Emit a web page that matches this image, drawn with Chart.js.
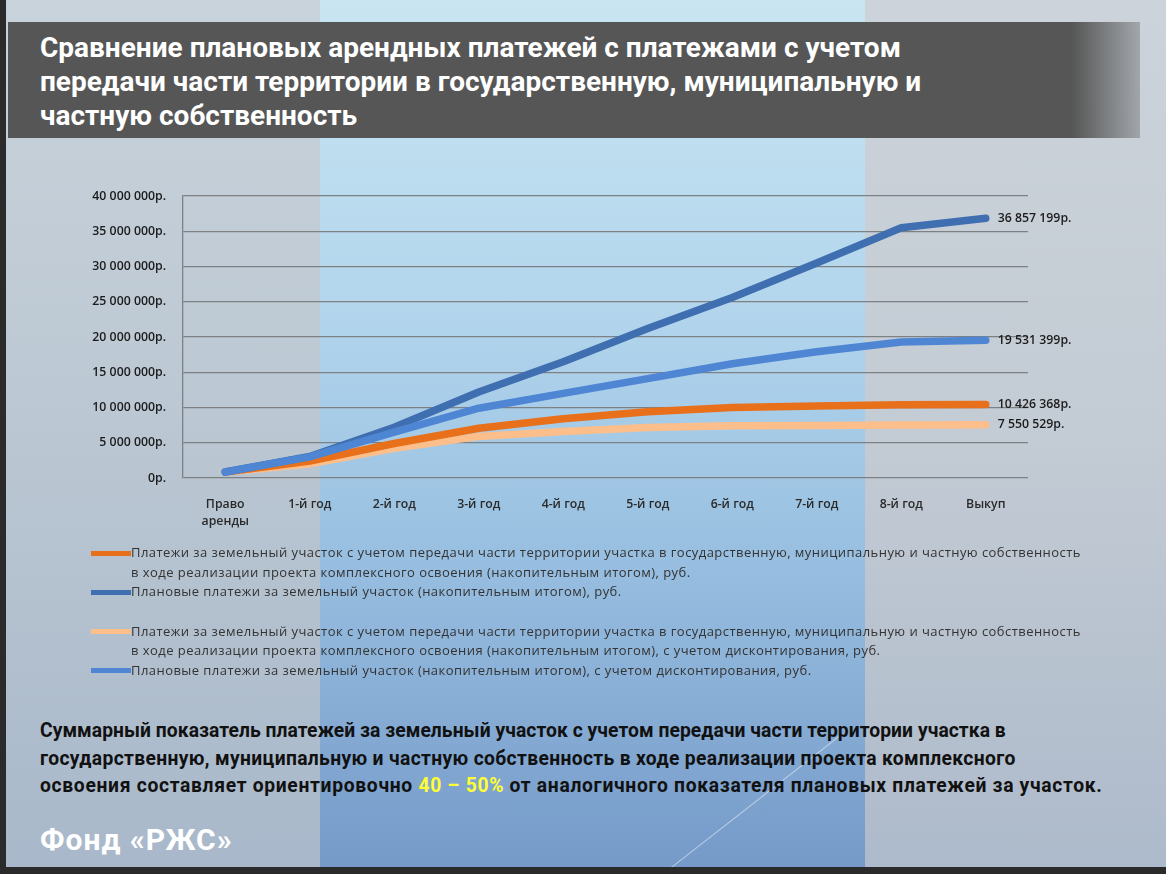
<!DOCTYPE html>
<html lang="ru">
<head>
<meta charset="utf-8">
<title>Сравнение плановых арендных платежей</title>
<script src="https://cdn.jsdelivr.net/npm/chart.js@4.4.1/dist/chart.umd.min.js"></script>
<style>
  html, body { margin: 0; padding: 0; }
  body {
    width: 1166px; height: 874px; overflow: hidden; position: relative;
    font-family: "Open Sans", "Noto Sans", sans-serif;
  }
  .panel { position: absolute; top: 0; height: 874px; }
  .p-left  { left: 0; width: 320px; background: linear-gradient(#c9d3db 0%, #bcc8d3 45%, #a8b8ca 100%); }
  .p-mid   { left: 320px; width: 545px; background: linear-gradient(#c9e5f2 0%, #b3d6ed 35%, #97bee0 65%, #7499c8 100%); }
  .p-right { left: 865px; width: 301px; background: linear-gradient(#ccd3da 0%, #c3cbd4 50%, #adbacb 100%); }
  .streak {
    position: absolute; left: 840px; top: 735px; width: 1px; height: 222px;
    background: rgba(255,255,255,0.5); transform: rotate(52deg); transform-origin: top left;
  }
  .edge-left { position: absolute; left: 0; top: 0; width: 6px; height: 874px; background: #2b2b2b; }
  .edge-bottom { position: absolute; left: 0; top: 867px; width: 1166px; height: 7px; background: #2b2b2b; }
  .title {
    position: absolute; left: 8px; top: 22px; width: 1132px; height: 116px;
    background: linear-gradient(to right, #565656 0%, #565656 94%, rgba(86,86,86,0.35) 100%);
    box-sizing: border-box; padding: 9px 0 0 32px;
    color: #ffffff; font-family: Roboto, sans-serif; font-weight: 700; font-size: 28px; line-height: 34px;
  }
  #chartBox { position: absolute; left: 0; top: 0; width: 1166px; height: 560px; }
  .legend { position: absolute; left: 91px; top: 543px; width: 1060px; }
  .legend .item { display: flex; align-items: flex-start; }
  .legend .mark { width: 40px; height: 5px; margin-top: 7.5px; flex: none; }
  .legend .text {
    font-size: 13px; letter-spacing: 0.45px; line-height: 19.6px; color: #333; white-space: nowrap;
  }
  .legend .gap { height: 20px; }
  .summary {
    position: absolute; left: 40px; top: 717px; width: 1110px; white-space: nowrap;
    font-family: Roboto, sans-serif; font-weight: 700; font-size: 19.3px; line-height: 27.7px; color: #111;
  }
  .summary .l1 { letter-spacing: 0.05px; }
  .summary .l2 { letter-spacing: 0.34px; }
  .summary .l3 { letter-spacing: 0.68px; }
  .summary .hl { color: #ffff33; }
  .footer {
    position: absolute; left: 40px; top: 822px;
    font-family: Roboto, sans-serif; font-weight: 700; font-size: 30px; letter-spacing: 1px; color: #ffffff;
  }
</style>
</head>
<body>
<div class="panel p-left"></div>
<div class="panel p-mid"></div>
<div class="panel p-right"></div>
<div class="streak"></div>
<div class="edge-left"></div>
<div class="edge-bottom"></div>

<div class="title">Сравнение плановых арендных платежей с платежами с учетом<br>передачи части территории в государственную, муниципальную и<br>частную собственность</div>

<div id="chartBox"><canvas id="chart" width="1166" height="560"></canvas></div>

<div class="legend" id="legend"></div>

<div class="summary"><span class="l1">Суммарный показатель платежей за земельный участок с учетом передачи части территории участка в</span><br><span class="l2">государственную, муниципальную и частную собственность в ходе реализации проекта комплексного</span><br><span class="l3">освоения составляет ориентировочно <span class="hl">40 – 50%</span> от аналогичного показателя плановых платежей за участок.</span></div>

<div class="footer">Фонд «РЖС»</div>

<script>
// Periods of the lease schedule
const categories = [
  ["Право", "аренды"], "1-й год", "2-й год", "3-й год", "4-й год",
  "5-й год", "6-й год", "7-й год", "8-й год", "Выкуп"
];

// Cumulative payments, roubles
const transferPayments = [850000, 2400000, 4900000, 7050000, 8400000, 9400000, 10000000, 10200000, 10400000, 10426368];
const plannedPayments = [850000, 3050000, 7200000, 12200000, 16500000, 21200000, 25600000, 30500000, 35500000, 36857199];
const transferDiscounted = [850000, 2000000, 4200000, 5900000, 6600000, 7150000, 7400000, 7450000, 7520000, 7550529];
const plannedDiscounted = [850000, 3000000, 6500000, 9900000, 12000000, 14100000, 16200000, 17900000, 19300000, 19531399];

// Y axis range
const yMin = 0;
const yMax = 40000000;
const yStep = 5000000;

// Legend texts (each entry is a list of printed lines)
const labelTransfer = [
  "Платежи за земельный участок с учетом передачи части территории участка в государственную, муниципальную и частную собственность",
  "в ходе реализации проекта комплексного освоения (накопительным итогом), руб."
];
const labelPlanned = ["Плановые платежи за земельный участок (накопительным итогом), руб."];
const labelTransferDisc = [
  "Платежи за земельный участок с учетом передачи части территории участка в государственную, муниципальную и частную собственность",
  "в ходе реализации проекта комплексного освоения (накопительным итогом), с учетом дисконтирования, руб."
];
const labelPlannedDisc = ["Плановые платежи за земельный участок (накопительным итогом), с учетом дисконтирования, руб."];

const colors = {
  orange: "#e8701a",
  darkBlue: "#3f6fb0",
  lightOrange: "#fcbf8c",
  lightBlue: "#4e86d4"
};

function rub(v) {
  return String(Math.round(v)).replace(/\B(?=(\d{3})+(?!\d))/g, " ") + "р.";
}

const axisFont = { family: "Open Sans", size: 12.3, weight: "600" };

const datasets = [
  { label: labelTransfer, data: transferPayments, borderColor: colors.orange, order: 2, gapAfter: false },
  { label: labelPlanned, data: plannedPayments, borderColor: colors.darkBlue, order: 1, gapAfter: true },
  { label: labelTransferDisc, data: transferDiscounted, borderColor: colors.lightOrange, order: 3, gapAfter: false },
  { label: labelPlannedDisc, data: plannedDiscounted, borderColor: colors.lightBlue, order: 0, gapAfter: false }
].map(d => Object.assign({
  borderWidth: 7.5,
  pointRadius: 0,
  tension: 0,
  fill: false,
  borderCapStyle: "round",
  borderJoinStyle: "round"
}, d));

// Value captions at the last point of each line
const endLabels = {
  id: "endLabels",
  afterDatasetsDraw(chart) {
    const ctx = chart.ctx;
    ctx.save();
    ctx.font = "600 12.3px 'Open Sans'";
    ctx.fillStyle = "#1c1c1c";
    ctx.textAlign = "left";
    ctx.textBaseline = "middle";
    chart.data.datasets.forEach((ds, i) => {
      const meta = chart.getDatasetMeta(i);
      const last = meta.data[meta.data.length - 1];
      ctx.fillText(rub(ds.data[ds.data.length - 1]), last.x + 12, last.y);
    });
    ctx.restore();
  }
};

const chart = new Chart(document.getElementById("chart"), {
  type: "line",
  data: { labels: categories, datasets },
  options: {
    responsive: false,
    animation: false,
    layout: { padding: { left: 0, top: 196, right: 138, bottom: 22 } },
    plugins: { legend: { display: false }, tooltip: { enabled: false } },
    scales: {
      x: {
        offset: true,
        grid: { display: false, drawTicks: false },
        border: { display: false },
        ticks: {
          color: "#2a2a2a", padding: 18, maxRotation: 0, autoSkip: false,
          font: Object.assign({ lineHeight: 1.4 }, axisFont)
        },
        afterFit(scale) { scale.height = 60; }
      },
      y: {
        min: yMin, max: yMax,
        grid: { color: "#7d8184", lineWidth: 1.3, drawTicks: false },
        border: { display: true, color: "#7d8184", width: 1.3 },
        ticks: {
          stepSize: yStep, padding: 17, color: "#1c1c1c",
          font: axisFont,
          callback: v => rub(v)
        },
        afterFit(scale) { scale.width = 183; }
      }
    }
  },
  plugins: [endLabels]
});

// Legend drawn from the same dataset definitions
const legendEl = document.getElementById("legend");
datasets.forEach(ds => {
  const item = document.createElement("div");
  item.className = "item";
  const mark = document.createElement("div");
  mark.className = "mark";
  mark.style.background = ds.borderColor;
  const text = document.createElement("div");
  text.className = "text";
  text.innerHTML = ds.label.map(s => s.replace(/&/g, "&amp;").replace(/</g, "&lt;")).join("<br>");
  item.appendChild(mark);
  item.appendChild(text);
  legendEl.appendChild(item);
  if (ds.gapAfter) {
    const g = document.createElement("div");
    g.className = "gap";
    legendEl.appendChild(g);
  }
});
</script>
</body>
</html>
